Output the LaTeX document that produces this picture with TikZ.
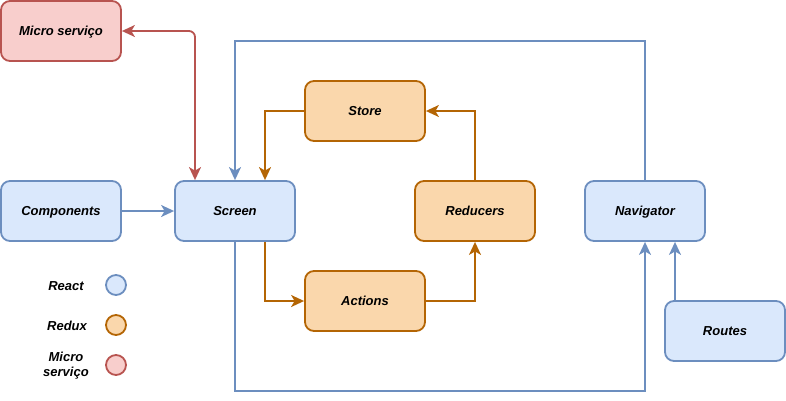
\documentclass[tikz,border=0pt]{standalone}
\usepackage{fontspec}
\setmainfont{Liberation Sans}
\usetikzlibrary{arrows.meta}
\definecolor{bfill}{HTML}{DAE8FC}\definecolor{bline}{HTML}{6C8EBF}
\definecolor{ofill}{HTML}{FAD7AC}\definecolor{oline}{HTML}{B46504}
\definecolor{rfill}{HTML}{F8CECC}\definecolor{rline}{HTML}{B85450}
\tikzset{
  box/.style={draw, line width=1.8pt, rounded corners=9pt, minimum width=120pt, minimum height=60pt, inner sep=0pt},
  bluebox/.style={box, fill=bfill, draw=bline},
  orangebox/.style={box, fill=ofill, draw=oline},
  redbox/.style={box, fill=rfill, draw=rline},
  lbl/.style={font=\fontsize{13}{15}\selectfont\bfseries\itshape, inner sep=0pt, anchor=base},
  tip/.tip={Stealth[length=13pt,width=12pt,inset=3.5pt]},
  conn/.style={line width=1.8pt, -tip},
  legtext/.style={font=\fontsize{13}{15}\selectfont\bfseries\itshape, align=center, inner sep=0pt},
  legdot/.style={circle, draw, line width=1.8pt, minimum size=20pt, inner sep=0pt}
}
\begin{document}
\begin{tikzpicture}[x=1pt,y=-1pt]
\useasboundingbox (0,0) rectangle (786,400);
\node[redbox] (micro) at (61,31) {};
\node[bluebox] (comp) at (61,211) {};
\node[bluebox] (screen) at (235,211) {};
\node[orangebox] (store) at (365,111) {};
\node[orangebox] (reducers) at (475,211) {};
\node[orangebox] (actions) at (365,301) {};
\node[bluebox] (nav) at (645,211) {};
\node[bluebox] (routes) at (725,331) {};
\node[lbl] (tmicro) at ([yshift=-4.7pt]micro.center) {Micro serviço};
\node[lbl] (tcomp) at ([yshift=-4.7pt]comp.center) {Components};
\node[lbl] (tscreen) at ([yshift=-4.7pt]screen.center) {Screen};
\node[lbl] (tstore) at ([yshift=-4.7pt]store.center) {Store};
\node[lbl] (treducers) at ([yshift=-4.7pt]reducers.center) {Reducers};
\node[lbl] (tactions) at ([yshift=-4.7pt]actions.center) {Actions};
\node[lbl] (tnav) at ([yshift=-4.7pt]nav.center) {Navigator};
\node[lbl] (troutes) at ([yshift=-4.7pt]routes.center) {Routes};
% legend
\node[lbl] (lreact) at (66,290.7) {React};
\node[legdot, fill=bfill, draw=bline] (dreact) at (116,285) {};
\node[lbl] (lredux) at (67,330.7) {Redux};
\node[legdot, fill=ofill, draw=oline] (dredux) at (116,325) {};
\node[legtext] (lmicro) at (66,366) {Micro\\serviço};
\node[legdot, fill=rfill, draw=rline] (dmicro) at (116,365) {};
% connectors
\draw[conn, draw=rline, rounded corners=6pt, tip-tip] (micro.east) -- (195,31) -- (screen.north -| 195,0);
\draw[conn, draw=bline] (comp.east) -- (screen.west);
\draw[conn, draw=oline] (store.west) -- (265,111) -- (screen.north -| 265,0);
\draw[conn, draw=oline] (screen.south -| 265,0) -- (265,301) -- (actions.west);
\draw[conn, draw=oline] (actions.east) -- (475,301) -- (reducers.south);
\draw[conn, draw=oline] (reducers.north) -- (475,111) -- (store.east);
\draw[conn, draw=bline] (nav.north) -- (645,41) -- (235,41) -- (screen.north);
\draw[conn, draw=bline] (screen.south) -- (235,391) -- (645,391) -- (nav.south);
\draw[conn, draw=bline] (routes.north -| 675,0) -- (nav.south -| 675,0);
\end{tikzpicture}
\end{document}
